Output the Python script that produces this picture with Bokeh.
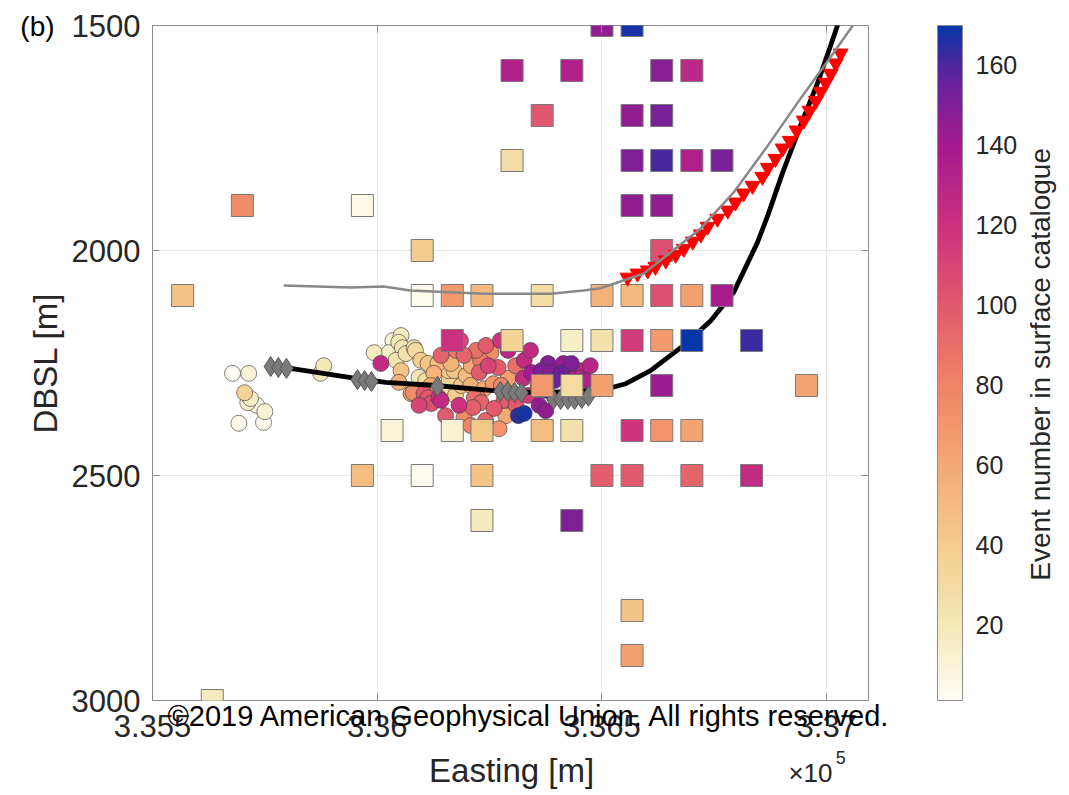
import numpy as np
from bokeh.plotting import figure
from bokeh.models import (ColumnDataSource, LinearColorMapper, ColorBar, Range1d,
                          FixedTicker, Label, LinearAxis, Title)
from bokeh.transform import transform
from bokeh.embed import file_html
from bokeh.resources import INLINE

# ---------------- data ----------------
# surface-catalogue event locations (squares): easting [m], depth below sea level [m], event number
sq_east = [336500, 336567,
           336300, 336433, 336633, 336700,
           336367, 336567, 336633,
           336300, 336567, 336633, 336700, 336767,
           335700, 335967, 336567, 336633,
           336100, 336633,
           335567, 336100, 336167, 336233, 336367, 336500, 336567, 336633, 336700, 336767,
           336167, 336300, 336433, 336500, 336567, 336633, 336700, 336833,
           336367, 336433, 336500, 336633, 336955,
           336033, 336167, 336233, 336367, 336433, 336567, 336633, 336700,
           335967, 336100, 336233, 336500, 336567, 336700, 336833,
           336233, 336433,
           336567, 336567, 335633]
sq_depth = [1500, 1500,
            1600, 1600, 1600, 1600,
            1700, 1700, 1700,
            1800, 1800, 1800, 1800, 1800,
            1900, 1900, 1900, 1900,
            2000, 2000,
            2100, 2100, 2100, 2100, 2100, 2100, 2100, 2100, 2100, 2100,
            2200, 2200, 2200, 2200, 2200, 2200, 2200, 2200,
            2300, 2300, 2300, 2300, 2300,
            2400, 2400, 2400, 2400, 2400, 2400, 2400, 2400,
            2500, 2500, 2500, 2500, 2500, 2500, 2500,
            2600, 2600,
            2800, 2900, 3000]
sq_event = [145, 168,
            135, 135, 148, 128,
            102, 145, 152,
            28, 150, 162, 135, 152,
            75, 5, 145, 145,
            40, 105,
            45, 3, 68, 50, 28, 55, 50, 105, 65, 138,
            120, 35, 15, 25, 115, 68, 170, 163,
            68, 30, 65, 142, 62,
            10, 12, 42, 48, 25, 118, 72, 62,
            48, 3, 45, 98, 100, 95, 125,
            18, 150,
            45, 65, 18]

# relocated events (circles)
ev_east = [335678, 335714, 335692, 335747, 335750, 335732, 335712, 335718, 335705, 335874,
           335881, 335993, 336008, 336048, 336056, 336064, 336082, 336042, 336053, 336048,
           336080, 336093, 336113, 336135, 336142, 336158, 336104, 336120, 336142, 336164,
           336171, 336160, 336193, 336187, 336242, 336253, 336227, 336247, 336269, 336258,
           336291, 336291, 336216, 336231, 336182, 336260, 336193, 336302, 336309, 336327,
           336314, 336360, 336327, 336325, 336358, 336380, 336414, 336432, 336454, 336409,
           336365, 336450, 336394, 336075, 336113, 336137, 336213, 336271, 336282, 336224,
           336291, 336108, 336097, 336026, 336053, 336035, 336209, 336175, 336220, 336276,
           336238, 336153, 336198, 336343, 336474, 336423, 336336, 336376, 336126, 336093,
           336174, 336208, 336152, 336241, 336208, 336286, 336375, 336185, 336274, 336341,
           336085, 336119, 336230, 336308, 336386, 336464]
ev_depth = [2273, 2273, 2384, 2382, 2358, 2344, 2338, 2329, 2316, 2273,
            2256, 2227, 2251, 2204, 2216, 2229, 2216, 2244, 2267, 2293,
            2316, 2282, 2251, 2251, 2233, 2267, 2318, 2340, 2333, 2251,
            2267, 2289, 2233, 2300, 2211, 2227, 2271, 2256, 2260, 2296,
            2284, 2318, 2327, 2338, 2344, 2351, 2371, 2340, 2344, 2362,
            2367, 2344, 2244, 2284, 2300, 2251, 2251, 2251, 2267, 2273,
            2267, 2284, 2289, 2318, 2327, 2327, 2349, 2396, 2333, 2327,
            2222, 2289, 2244, 2227, 2189, 2200, 2256, 2222, 2222, 2300,
            2307, 2307, 2278, 2271, 2256, 2273, 2322, 2311, 2273, 2344,
            2322, 2300, 2367, 2378, 2389, 2367, 2356, 2200, 2200, 2222,
            2222, 2300, 2244, 2256, 2271, 2289]
ev_num = [2, 10, 4, 3, 12, 5, 12, 15, 35, 18,
          20, 18, 125, 20, 22, 25, 28, 24, 45, 55,
          75, 20, 45, 50, 95, 40, 100, 105, 125, 55,
          45, 35, 95, 45, 100, 75, 100, 110, 100, 70,
          65, 95, 90, 95, 120, 100, 75, 55, 100, 168,
          165, 145, 125, 125, 120, 150, 145, 150, 128, 155,
          150, 128, 155, 70, 102, 118, 98, 72, 98, 85,
          130, 30, 40, 15, 18, 12, 60, 85, 90, 80,
          60, 30, 50, 140, 130, 135, 115, 160, 55, 110,
          40, 55, 100, 95, 80, 60, 145, 110, 118, 125,
          30, 60, 85, 90, 150, 135]

# perforation / stage markers (grey diamonds)
dia_east = [335763, 335780, 335798, 335956, 335972, 335987, 336134, 336274, 336290,
            336306, 336321, 336392, 336408, 336424, 336439, 336455, 336470]
dia_depth = [2258, 2260, 2262, 2287, 2289, 2291, 2302, 2313, 2313,
             2316, 2316, 2331, 2331, 2331, 2331, 2329, 2324]

# receiver positions (red triangles)
tri_east = [336557, 336579, 336602, 336619, 336642, 336664, 336682, 336702, 336720, 336735,
            336757, 336780, 336797, 336815, 336835, 336857, 336869, 336886, 336902, 336918,
            336933, 336949, 336962, 336976, 336987, 336998, 337009, 337020, 337031]
tri_depth = [2060, 2051, 2044, 2036, 2022, 2009, 1996, 1980, 1964, 1947,
             1929, 1911, 1893, 1873, 1856, 1836, 1816, 1796, 1773, 1756,
             1733, 1711, 1689, 1667, 1647, 1627, 1607, 1584, 1562]

# monitoring well trajectory (grey line)
mon_east = [335792, 335941, 336014, 336074, 336237, 336386, 336459, 336497, 336593,
            336720, 336793, 336869, 336942, 337016, 337058, 337071]
mon_depth = [2078, 2082, 2080, 2089, 2096, 2096, 2089, 2084, 2051,
             1951, 1871, 1767, 1662, 1560, 1500, 1478]

# treatment well trajectory (black line)
trt_east = [335807, 335952, 336019, 336130, 336252, 336363, 336497, 336553, 336608, 336682,
            336742, 336793, 336846, 336869, 336902, 336942, 336980, 337009, 337024, 337033]
trt_depth = [2262, 2284, 2293, 2300, 2311, 2316, 2311, 2296, 2267, 2211,
             2156, 2093, 1982, 1922, 1827, 1722, 1627, 1544, 1500, 1471]

x_ticks = [335500, 336000, 336500, 337000]
x_tick_labels = ["3.355", "3.36", "3.365", "3.37"]
y_ticks = [1500, 2000, 2500, 3000]
cb_ticks = [20, 40, 60, 80, 100, 120, 140, 160]
cb_low, cb_high = 1, 170

# ---------------- colour map ----------------
anchor_vals = [1, 20, 40, 60, 80, 100, 120, 140, 155, 162, 170]
anchor_cols = ["#fffdf5", "#f3e8b6", "#f4cc8c", "#f4a872", "#ef8466", "#e2596d",
               "#cc317e", "#a51a90", "#6d2199", "#45289e", "#0636a8"]


def hex_rgb(h):
    return [int(h[i:i + 2], 16) for i in (1, 3, 5)]


rgb = np.array([hex_rgb(c) for c in anchor_cols], dtype=float)
palette = []
for v in np.linspace(cb_low, cb_high, 256):
    r, g, b = (np.interp(v, anchor_vals, rgb[:, k]) for k in range(3))
    palette.append("#%02x%02x%02x" % (int(round(r)), int(round(g)), int(round(b))))

mapper = LinearColorMapper(palette=palette, low=cb_low, high=cb_high)

FONT = "Liberation Sans"
TXT = "#262626"
BOX = "#8c8c8c"

p = figure(width=1069, height=795, output_backend="svg", toolbar_location=None,
           x_range=Range1d(335500, 337093), y_range=Range1d(3000, 1500),
           min_border_left=152, min_border_top=25, min_border_bottom=95, min_border_right=201,
           frame_width=716, frame_height=675)
p.extra_y_ranges = {"cb": Range1d(cb_low, cb_high)}
p.outline_line_color = BOX
p.outline_line_width = 1
p.background_fill_color = "white"
p.border_fill_color = "white"


def style_axis(ax, tick_size, label_size):
    ax.major_label_text_font = FONT
    ax.major_label_text_font_size = tick_size
    ax.major_label_text_color = TXT
    ax.axis_label_text_font = FONT
    ax.axis_label_text_font_size = label_size
    ax.axis_label_text_font_style = "normal"
    ax.axis_label_text_color = TXT
    ax.axis_line_color = None
    ax.major_tick_in = 7
    ax.major_tick_out = 0
    ax.major_tick_line_color = BOX
    ax.minor_tick_line_color = None


style_axis(p.xaxis[0], "31px", "29px")
style_axis(p.yaxis[0], "31px", "33px")

# the x axis carries the credit line as its label, pulled up over the tick labels
p.xaxis.ticker = FixedTicker(ticks=x_ticks)
p.xaxis.major_label_overrides = dict(zip(x_ticks, x_tick_labels))
p.xaxis.axis_label = "\u00a0\u00a0\u00a0\u00a0\u2009\u00a92019 American Geophysical Union. All rights reserved."
p.xaxis.axis_label_text_color = "black"
p.xaxis.major_label_standoff = 14
p.xaxis.axis_label_standoff = -40
p.yaxis.ticker = FixedTicker(ticks=y_ticks)
p.yaxis.axis_label = "DBSL [m]"
p.yaxis.major_label_standoff = 12
p.yaxis.axis_label_standoff = 5

p.xgrid.ticker = FixedTicker(ticks=x_ticks)
p.ygrid.ticker = FixedTicker(ticks=y_ticks)
p.grid.grid_line_color = "#e6e6e6"
p.grid.grid_line_width = 1

# tick marks on the top and right edges of the box, without labels
top_ticks = LinearAxis(ticker=FixedTicker(ticks=x_ticks))
right_ticks = LinearAxis(ticker=FixedTicker(ticks=y_ticks))
for ax in (top_ticks, right_ticks):
    style_axis(ax, "0px", "0px")
    ax.major_label_standoff = 0
    ax.major_label_text_alpha = 0

# ---------------- glyphs ----------------
order_c = np.argsort(ev_num, kind="stable")
ev_src = ColumnDataSource(dict(x=[ev_east[i] for i in order_c],
                               y=[ev_depth[i] for i in order_c],
                               n=[ev_num[i] for i in order_c]))
p.scatter("x", "y", source=ev_src, marker="circle", size=16,
          fill_color=transform("n", mapper), line_color="#3a3a3a", line_width=0.8,
          line_alpha=0.8)

p.line(trt_east, trt_depth, line_color="black", line_width=4.8)

p.scatter(dia_east, dia_depth, marker="diamond", size=20, fill_color="#7a7a7a",
          line_color="#555555", line_width=1)

order_s = np.argsort(sq_event, kind="stable")
sq_src = ColumnDataSource(dict(x=[sq_east[i] for i in order_s],
                               y=[sq_depth[i] for i in order_s],
                               n=[sq_event[i] for i in order_s]))
p.scatter("x", "y", source=sq_src, marker="square", size=22,
          fill_color=transform("n", mapper), line_color="#7a7a7a", line_width=1)

p.scatter(tri_east, tri_depth, marker="inverted_triangle", size=15,
          fill_color="#ff0000", line_color="#ff0000")

p.line(mon_east, mon_depth, line_color="#888888", line_width=2.5)

# ---------------- texts outside the axes box ----------------
easting_label = Label(x=336299, y=3156, text="Easting [m]", text_font=FONT,
                      text_font_size="33px", text_color=TXT,
                      text_baseline="middle", text_align="center")
exp_base = Label(x=337013, y=3160, text="\u00d710", text_font=FONT, text_font_size="26px",
                 text_color=TXT, text_baseline="middle", text_align="right")
exp_pow = Label(x=337020, y=3127, text="5", text_font=FONT, text_font_size="18px",
                text_color=TXT, text_baseline="middle", text_align="left")
panel_label = Label(x=335206, y=1503, text="(b)", text_font=FONT, text_font_size="28px",
                    text_color="black", text_baseline="middle", text_align="left")
cb_title = Label(x=337476, y=2253, text="Event number in surface catalogue", angle=90,
                 angle_units="deg", text_font=FONT, text_font_size="28px", text_color=TXT,
                 text_baseline="middle", text_align="center")

p.add_layout(top_ticks, "above")
p.add_layout(right_ticks, "right")
p.add_layout(easting_label, "below")
p.add_layout(exp_base, "below")
p.add_layout(exp_pow, "above")
p.add_layout(panel_label, "right")
p.add_layout(cb_title, "right")
p.add_layout(Title(text=" ", text_font_size="1px", standoff=1), "right")

# ---------------- colour bar ----------------
cb = ColorBar(color_mapper=mapper, ticker=FixedTicker(ticks=[]), width=25, height=675,
              location="top_left", margin=0, padding=0, title=None,
              major_tick_line_color=None, bar_line_color=BOX,
              background_fill_color=None, border_line_color=None)
p.add_layout(cb, "right")

cb_axis = LinearAxis(y_range_name="cb", ticker=FixedTicker(ticks=cb_ticks))
style_axis(cb_axis, "25px", "28px")
cb_axis.major_tick_in = 6
cb_axis.major_tick_line_color = "#444444"
cb_axis.major_label_standoff = 13
p.add_layout(cb_axis, "right")

open("out.html", "w").write(file_html(p, INLINE))
